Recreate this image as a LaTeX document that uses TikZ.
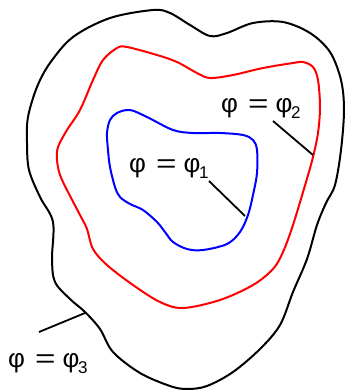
\documentclass[tikz,border=0pt]{standalone}
\usepackage{fontspec}
\usepackage{graphicx}
\setmainfont{Liberation Sans}
\newcommand{\lbl}[1]{\makebox[27pt][l]{φ}\makebox[27.5pt][l]{\scalebox{1.35}[1]{=}}\makebox[15.5pt][l]{φ}\raisebox{-5.5pt}{\fontsize{17}{17}\selectfont #1}}
\begin{document}
\begin{tikzpicture}[x=1pt,y=-1pt,
  contour/.style={line width=2pt},
  leader/.style={line width=1.8pt},
  lab/.style={inner sep=0pt,anchor=base west,font=\fontsize{26}{26}\selectfont}]
\useasboundingbox (0,0) rectangle (346,392);
% outer black
\draw[contour] plot[smooth cycle,tension=0.55] coordinates {
(110,18) (153,10) (170,13) (190,25) (210,36) (227,33) (253,23) (283,22) (310,33) (330,52) (341,80) (344,110) (341,150) (335,185) (326,203) (317,225) (307,259) (293,292) (280,325) (260,349) (233,372) (207,386) (187,389) (170,386) (140,373) (113,352) (100,329) (85,312) (70,299) (55,282) (52,259) (53,222) (40,197) (29,170) (27,143) (28,117) (37,87) (50,63) (73,37)};
% red
\draw[contour,red] plot[smooth cycle,tension=0.55] coordinates {
(117,48) (127,47) (157,55) (177,62) (197,73) (210,78) (233,75) (263,68) (293,63) (303,62) (313,67) (318,80) (320,107) (318,133) (313,157) (306,182) (293,225) (283,252) (273,269) (253,285) (220,300) (183,308) (160,302) (133,285) (107,265) (93,249) (87,229) (80,215) (68,192) (60,175) (57,160) (58,147) (67,130) (80,110) (93,80) (103,60)};
% blue
\draw[contour,blue] plot[smooth cycle,tension=0.55] coordinates {
(117,113) (130,110) (147,117) (173,130) (193,133) (220,133) (243,135) (253,140) (257,150) (257,173) (253,195) (248,215) (240,232) (227,244) (203,250) (187,249) (173,242) (165,232) (157,222) (143,210) (130,204) (120,197) (115,187) (110,167) (108,150) (107,133) (110,120)};
% labels
\node[lab] (l2) at (221,112.5) {\lbl{2}};
\node[lab] (l1) at (129,172.5) {\lbl{1}};
\node[lab] (l3) at (8,367.5) {\lbl{3}};
\coordinate (a2) at (273,121);
\coordinate (b2) at (313,155);
\coordinate (a1) at (209,181);
\coordinate (b1) at (245,216);
\coordinate (a3) at (39,332);
\coordinate (b3) at (85,313);
\draw[leader] (a2) -- (b2);
\draw[leader] (a1) -- (b1);
\draw[leader] (a3) -- (b3);
\end{tikzpicture}
\end{document}
